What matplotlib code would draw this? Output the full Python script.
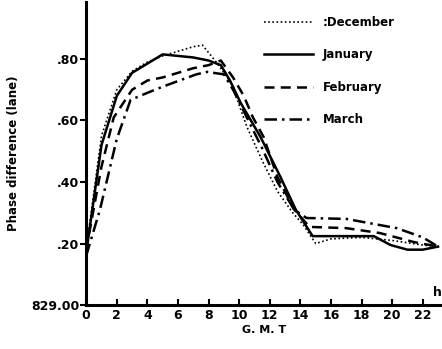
import numpy as np
import matplotlib.pyplot as plt

# GMT hours and phase difference (lane)
dec_h = [0, 1, 2, 3, 4, 5, 6, 7, 7.6, 8.5, 9.5, 10.5, 11.5, 12.5, 13.5, 14.2, 15, 16, 18, 20, 22, 23]
dec_v = [0.18, 0.55, 0.70, 0.76, 0.79, 0.81, 0.825, 0.84, 0.845, 0.79, 0.72, 0.58, 0.47, 0.37, 0.30, 0.26, 0.20, 0.215, 0.22, 0.21, 0.195, 0.19]

jan_h = [0, 1, 2, 3, 4, 5, 6, 7, 8, 8.8, 9.4, 10.1, 11.4, 12.7, 13.7, 14.8, 16, 18.8, 19.9, 21, 22, 23]
jan_v = [0.17, 0.52, 0.68, 0.755, 0.785, 0.815, 0.81, 0.805, 0.795, 0.78, 0.73, 0.657, 0.546, 0.416, 0.31, 0.224, 0.224, 0.224, 0.195, 0.18, 0.18, 0.19]

feb_h = [0, 1, 1.8, 3, 4, 5, 6, 7, 8, 8.8, 9.6, 10.3, 10.9, 11.6, 12.5, 13.6, 14.6, 17, 19.2, 21.4, 23]
feb_v = [0.18, 0.45, 0.61, 0.70, 0.73, 0.74, 0.755, 0.77, 0.78, 0.795, 0.74, 0.68, 0.61, 0.546, 0.416, 0.31, 0.254, 0.25, 0.234, 0.205, 0.19]

mar_h = [0, 0.9, 2, 2.9, 4, 5, 6.1, 7.2, 7.9, 9, 9.6, 10.5, 11.5, 12.5, 13.6, 14.4, 17, 18.1, 20.3, 22, 23]
mar_v = [0.16, 0.31, 0.54, 0.667, 0.69, 0.71, 0.73, 0.75, 0.758, 0.75, 0.70, 0.61, 0.51, 0.40, 0.31, 0.283, 0.28, 0.27, 0.25, 0.22, 0.19]

xticks = list(range(0, 23, 2))
yticks = [0.0, 0.2, 0.4, 0.6, 0.8]
ylabels = ["829.00", ".20", ".40", ".60", ".80"]

plt.rcParams["font.family"] = "DejaVu Sans"
plt.rcParams["font.weight"] = "bold"

fig = plt.figure(figsize=(4.42, 3.49), dpi=100)
ax = fig.add_axes([0.195, 0.126, 0.803, 0.868])

ax.plot(dec_h, dec_v, color="black", lw=1.2, linestyle=(0, (1, 1.5)), label=":December")
ax.plot(jan_h, jan_v, color="black", lw=1.8, linestyle="-", label="January")
ax.plot(feb_h, feb_v, color="black", lw=1.8, linestyle=(0, (4, 2.5)), label="February")
ax.plot(mar_h, mar_v, color="black", lw=1.8, linestyle=(0, (5, 2, 1, 2)), label="March")

ax.set_xlim(0, 23.2)
ax.set_ylim(0, 0.985)
ax.set_xticks(xticks)
ax.set_yticks(yticks)
ax.set_yticklabels(ylabels)
ax.tick_params(axis="x", direction="in", length=4, width=1.5, labelsize=9, pad=3)
ax.tick_params(axis="y", direction="out", length=4, width=1.5, labelsize=9, pad=1)

for side in ["top", "right"]:
    ax.spines[side].set_visible(False)
for side in ["left", "bottom"]:
    ax.spines[side].set_linewidth(2.2)

ax.set_xlabel("G. M. T", fontsize=8, fontweight="bold", labelpad=2)
ax.set_ylabel("Phase difference (lane)", fontsize=8.5, fontweight="bold", labelpad=8)
ax.text(22.95, 0.02, "h", fontsize=9, fontweight="bold", va="bottom", ha="center")

ax.legend(loc="upper left", bbox_to_anchor=(0.5, 0.955), frameon=False, fontsize=8.5,
          handlelength=4.2, handletextpad=0.8, labelspacing=1.65,
          borderaxespad=0, borderpad=0)

plt.savefig("out.png", dpi=100)
